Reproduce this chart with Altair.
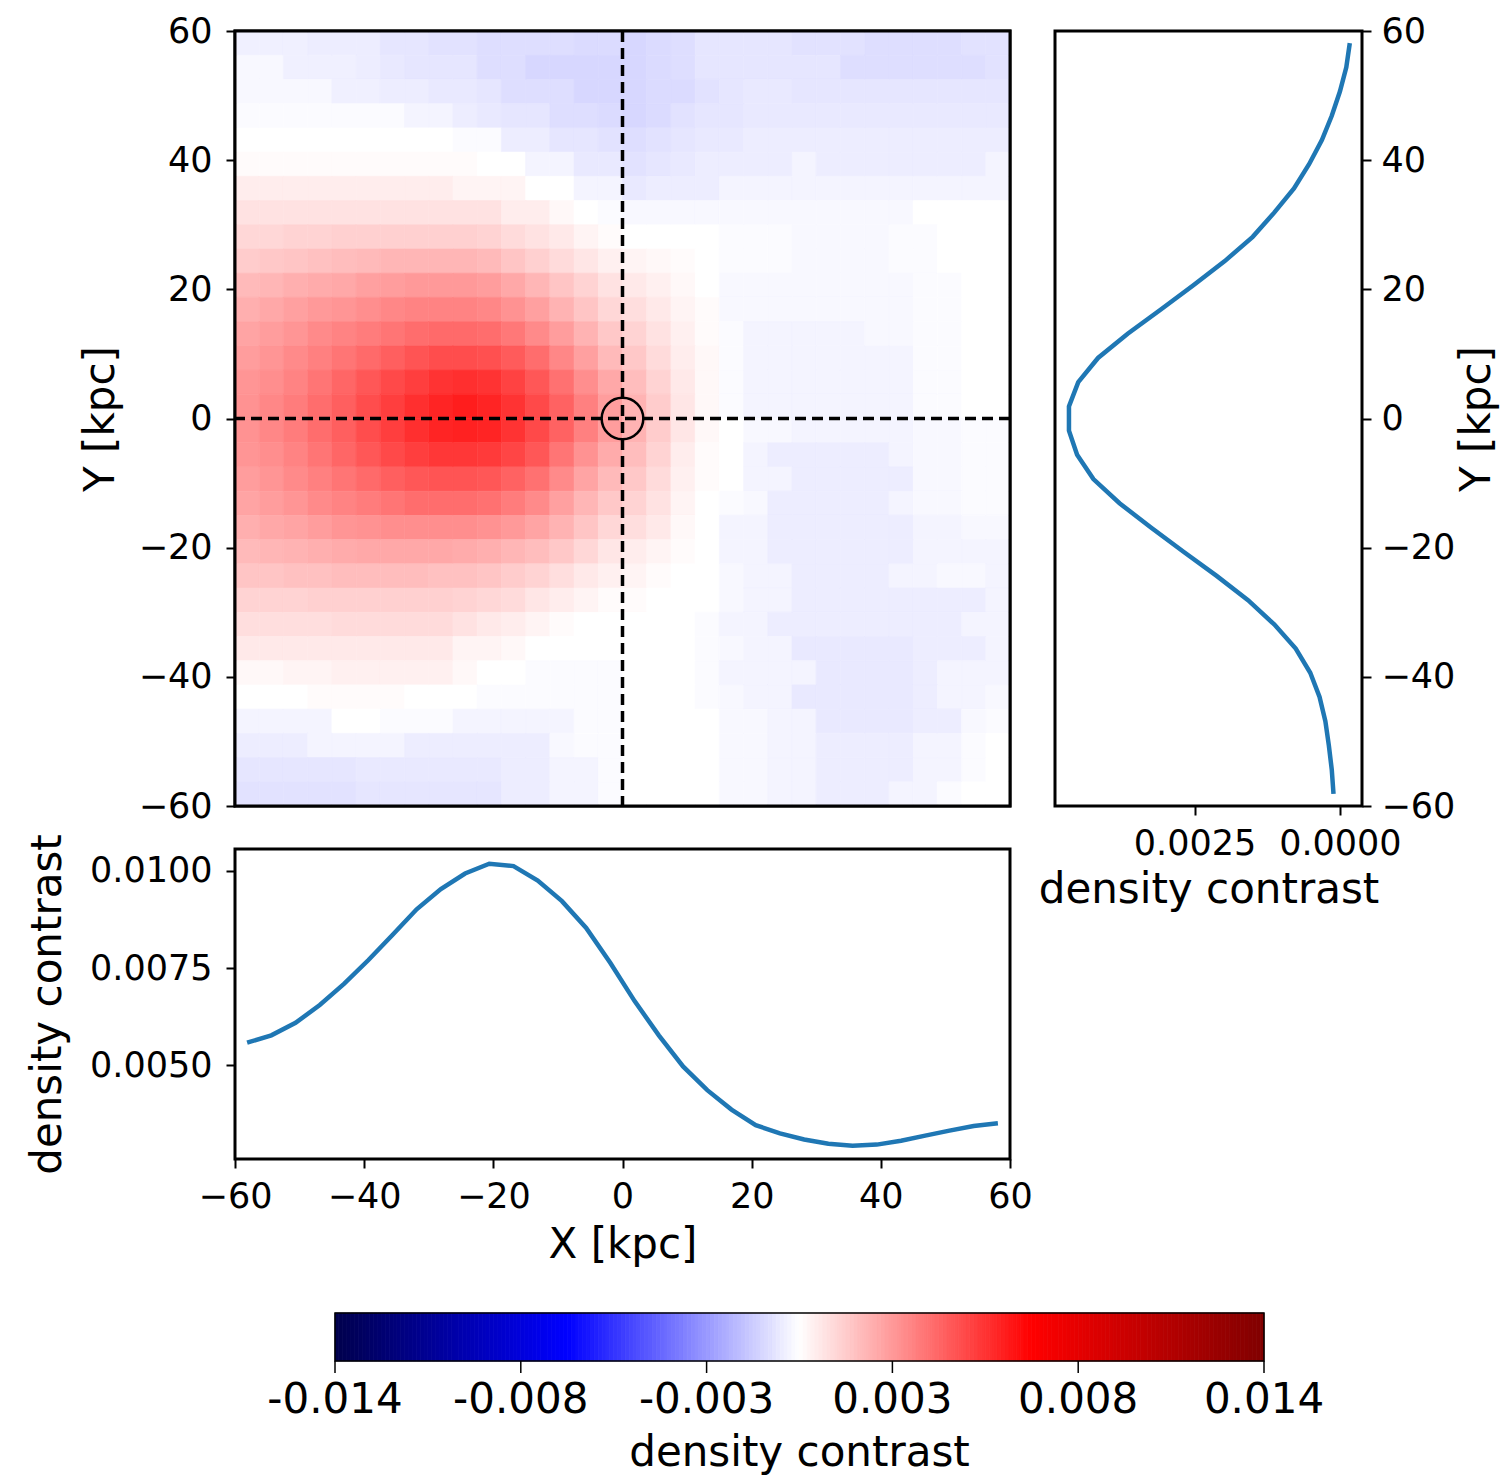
import altair as alt
import numpy as np
import pandas as pd

# ---------------- data ----------------
X_EDGES = np.linspace(-60, 60, 33)          # cell edges along X [kpc]
Y_EDGES = np.linspace(60, -60, 33)          # cell edges along Y, top row first
AXIS_TICKS = [-60, -40, -20, 0, 20, 40, 60]
CBAR_TICKS = [-0.014, -0.0084, -0.0028, 0.0028, 0.0084, 0.014]
CBAR_LABELS = ["-0.014", "-0.008", "-0.003", "0.003", "0.008", "0.014"]
CMAP_STOPS = [-0.014, -0.007, 0.0, 0.007, 0.014]
CMAP_COLORS = ["#00004c", "#0000ff", "#ffffff", "#ff0000", "#800000"]   # seismic

# density contrast map, units of 1e-4, row 0 = top (Y = 60)
HEAT_E4 = [
    [-4,-4,-4,-5,-5,-5,-7,-7,-8,-8,-9,-9,-9,-9,-10,-10,-11,-10,-9,-7,-7,-7,-7,-8,-8,-8,-9,-9,-9,-9,-8,-8],
    [-2,-2,-4,-4,-4,-5,-6,-7,-7,-7,-9,-9,-11,-11,-11,-11,-11,-10,-9,-7,-7,-7,-7,-7,-7,-9,-9,-9,-9,-9,-9,-8],
    [-2,-2,-2,-2,-4,-4,-5,-5,-6,-6,-7,-9,-9,-9,-11,-11,-11,-10,-10,-8,-7,-6,-6,-7,-7,-7,-7,-7,-7,-7,-7,-7],
    [-1,-1,-1,-1,-1,-1,-1,-3,-3,-5,-6,-7,-7,-9,-9,-10,-11,-10,-8,-7,-7,-6,-6,-6,-6,-6,-6,-6,-6,-6,-6,-6],
    [0,0,0,0,0,0,0,0,0,-1,-1,-5,-5,-7,-7,-8,-9,-8,-7,-6,-6,-5,-5,-5,-5,-5,-5,-5,-5,-5,-5,-5],
    [1,1,1,1,1,1,1,1,1,1,0,0,-3,-3,-6,-6,-8,-7,-6,-5,-5,-5,-5,-3,-5,-5,-5,-5,-5,-5,-5,-3],
    [5,5,5,5,5,5,5,5,5,3,3,3,0,0,-3,-3,-6,-5,-5,-5,-3,-3,-3,-3,-3,-3,-3,-3,-3,-3,-3,-3],
    [8,8,8,8,8,8,8,8,8,8,8,5,5,2,0,-1,-2,-2,-2,-2,-2,-2,-2,-2,-2,-2,-2,-2,0,0,0,0],
    [11,11,12,12,13,13,13,13,13,13,12,10,8,6,3,1,0,0,0,0,-1,-1,-1,-2,-2,-2,-2,-1,-1,0,0,0],
    [14,15,16,17,18,19,20,20,20,20,19,16,13,10,7,4,3,2,1,0,-1,-1,-1,-2,-2,-2,-2,-1,-1,0,0,0],
    [19,20,22,23,24,26,27,28,28,28,27,24,20,16,12,8,6,4,2,0,-2,-2,-2,-2,-2,-2,-2,-2,-1,-1,0,0],
    [22,24,26,28,29,31,33,34,34,34,33,30,26,21,16,11,9,6,3,1,-2,-2,-2,-2,-2,-2,-2,-2,-1,-1,0,0],
    [25,27,29,32,34,36,38,40,41,41,40,37,32,27,21,15,12,8,4,1,-1,-3,-3,-3,-3,-3,-2,-2,-1,-1,0,0],
    [27,29,32,35,38,41,44,47,49,49,48,45,40,33,26,19,15,10,5,2,-1,-3,-3,-3,-3,-3,-3,-3,-1,-1,0,0],
    [29,31,34,38,42,46,50,53,56,57,56,52,46,39,31,24,18,12,6,2,-1,-3,-3,-3,-3,-3,-3,-3,-1,-1,0,0],
    [30,33,36,40,44,49,53,57,60,62,60,56,50,43,35,27,21,14,7,2,-1,-3,-3,-3,-3,-3,-3,-3,-1,-1,0,0],
    [30,33,36,40,44,49,53,57,60,61,60,56,50,43,35,27,21,14,7,2,0,-2,-2,-3,-3,-3,-3,-3,-2,-2,-1,-1],
    [29,31,34,38,42,46,50,53,55,55,54,51,46,38,30,23,18,12,5,1,0,-3,-5,-5,-5,-5,-5,-3,-2,-2,-1,-1],
    [27,29,32,35,38,41,44,46,47,47,46,43,39,32,25,19,15,10,4,1,0,-3,-3,-5,-5,-5,-5,-5,-2,-2,-1,-1],
    [25,27,29,32,34,36,38,40,40,40,39,36,32,26,20,15,12,8,3,0,-1,-2,-5,-5,-5,-5,-5,-3,-2,-2,-1,-1],
    [22,24,25,27,29,30,31,31,31,31,30,28,25,21,16,11,9,6,2,0,-3,-3,-5,-5,-5,-5,-5,-5,-3,-3,-2,-2],
    [19,20,21,22,23,24,24,24,24,23,22,20,18,15,11,7,5,3,1,0,-3,-3,-5,-5,-5,-5,-5,-5,-3,-3,-3,-3],
    [16,16,17,17,18,18,18,18,17,17,16,14,12,9,6,4,3,1,0,0,-2,-3,-3,-5,-5,-5,-5,-3,-3,-2,-2,-3],
    [12,12,12,13,13,13,13,13,13,12,11,10,7,5,3,1,1,0,0,0,-2,-3,-3,-5,-5,-5,-5,-5,-5,-5,-5,-3],
    [9,9,9,9,10,10,10,10,10,8,6,5,3,1,0,0,0,0,0,-1,-3,-3,-5,-5,-5,-5,-5,-5,-5,-5,-3,-3],
    [6,6,6,6,6,6,6,6,6,3,3,2,0,0,0,0,0,0,0,-1,-2,-3,-3,-6,-6,-6,-6,-6,-5,-5,-5,-3],
    [2,2,3,3,4,4,4,4,4,2,0,0,-1,-1,-1,-1,0,0,0,-1,-3,-3,-3,-3,-6,-6,-6,-6,-5,-3,-3,-3],
    [0,0,0,1,1,1,1,0,0,0,-1,-1,-1,-1,-1,-1,0,0,0,-1,-2,-3,-3,-6,-6,-6,-6,-6,-5,-3,-3,-2],
    [-3,-3,-3,-3,0,0,-1,-1,-1,-3,-3,-3,-3,-3,-1,-1,0,0,0,0,-2,-2,-3,-3,-6,-6,-6,-6,-5,-5,-2,-1],
    [-5,-5,-5,-3,-3,-3,-3,-5,-5,-5,-5,-5,-5,-2,-1,-1,0,0,0,0,-2,-2,-3,-3,-5,-5,-5,-5,-3,-3,-1,0],
    [-7,-7,-7,-7,-7,-6,-6,-6,-6,-6,-6,-5,-5,-3,-3,-1,0,0,0,0,-2,-2,-3,-3,-5,-5,-5,-5,-3,-3,-1,0],
    [-8,-8,-8,-8,-8,-7,-7,-7,-7,-7,-7,-5,-5,-3,-3,-1,0,0,0,0,-2,-2,-3,-3,-5,-5,-5,-3,-3,-1,0,0],
]

# profile along X (bottom panel), at the 32 cell centres
X_PROFILE = [0.00558, 0.00577, 0.00609, 0.00655, 0.00709, 0.00770, 0.00835, 0.00901,
             0.00953, 0.00993, 0.01018, 0.01012, 0.00975, 0.00922, 0.00853, 0.00763,
             0.00665, 0.00577, 0.00497, 0.00436, 0.00386, 0.00346, 0.00325, 0.00309,
             0.00298, 0.00293, 0.00296, 0.00306, 0.00319, 0.00332, 0.00344, 0.00351]

# profile along Y (right panel), top (Y = 58) to bottom (Y = -58)
Y_PROFILE = [-0.00017, -0.00011, 0.00000, 0.00014, 0.00031, 0.00053, 0.00079, 0.00113,
             0.00150, 0.00198, 0.00252, 0.00308, 0.00365, 0.00416, 0.00450, 0.00466,
             0.00466, 0.00452, 0.00424, 0.00379, 0.00325, 0.00269, 0.00212, 0.00158,
             0.00113, 0.00076, 0.00051, 0.00035, 0.00025, 0.00019, 0.00014, 0.00011]

# ---------------- tables ----------------
rows = []
for r, row in enumerate(HEAT_E4):
    for c, v in enumerate(row):
        rows.append({"x0": float(X_EDGES[c]), "x1": float(X_EDGES[c + 1]),
                     "y0": float(Y_EDGES[r + 1]), "y1": float(Y_EDGES[r]),
                     "v": v * 1e-4})
heat_df = pd.DataFrame(rows)

x_centres = (X_EDGES[:-1] + X_EDGES[1:]) / 2
y_centres = (Y_EDGES[:-1] + Y_EDGES[1:]) / 2
bottom_df = pd.DataFrame({"x": x_centres, "v": X_PROFILE})
right_df = pd.DataFrame({"y": y_centres, "v": Y_PROFILE, "o": np.arange(len(Y_PROFILE))})
frame_df = pd.DataFrame({"x0": [X_EDGES[0]], "x1": [X_EDGES[-1]],
                         "y0": [Y_EDGES[-1]], "y1": [Y_EDGES[0]]})

FONT = "DejaVu Sans"
BLUE = "#1f77b4"
TICK_FS = 35
TITLE_FS = 42
CB_FS = 42
LINE_W = 4.5

cscale = alt.Scale(domain=CMAP_STOPS, range=CMAP_COLORS, interpolate="rgb")
xs = alt.Scale(domain=[-60, 60], nice=False, zero=False)
ys = alt.Scale(domain=[-60, 60], nice=False, zero=False)

heat_yaxis = alt.Axis(values=AXIS_TICKS, title="Y [kpc]", titlePadding=16, labelPadding=14)

heat = alt.Chart(heat_df).mark_rect(strokeWidth=0.6).encode(
    x=alt.X("x0:Q", scale=xs, axis=None),
    x2="x1:Q",
    y=alt.Y("y0:Q", scale=ys, axis=heat_yaxis),
    y2="y1:Q",
    color=alt.Color("v:Q", scale=cscale, legend=None),
    stroke=alt.Stroke("v:Q", scale=cscale, legend=None),
)

frame = alt.Chart(frame_df).mark_rect(
    fillOpacity=0, stroke="black", strokeWidth=3
).encode(
    x=alt.X("x0:Q", scale=xs, axis=None), x2="x1:Q",
    y=alt.Y("y0:Q", scale=ys, axis=heat_yaxis), y2="y1:Q",
)

vline = alt.Chart(pd.DataFrame({"x0": [0.0]})).mark_rule(
    color="black", strokeWidth=3.5, strokeDash=[11, 6]
).encode(x=alt.X("x0:Q", scale=xs, axis=None))

hline = alt.Chart(pd.DataFrame({"y0": [0.0]})).mark_rule(
    color="black", strokeWidth=3.5, strokeDash=[11, 6]
).encode(y=alt.Y("y0:Q", scale=ys, axis=heat_yaxis))

circ = alt.Chart(pd.DataFrame({"x0": [0.0], "y0": [0.0]})).mark_point(
    shape="circle", size=1735, filled=False, stroke="black", strokeWidth=2.5, opacity=1
).encode(x=alt.X("x0:Q", scale=xs, axis=None), y=alt.Y("y0:Q", scale=ys, axis=heat_yaxis))

heat_panel = alt.layer(heat, frame, vline, hline, circ).properties(width=775, height=775)

right = alt.Chart(right_df).mark_line(color=BLUE, strokeWidth=LINE_W).encode(
    x=alt.X("v:Q",
            scale=alt.Scale(domain=[-0.00038, 0.0049], reverse=True, nice=False, zero=False),
            axis=alt.Axis(values=[0.0, 0.0025], format=".4f", title="density contrast",
                          labelPadding=11, titlePadding=8)),
    y=alt.Y("y:Q", scale=ys,
            axis=alt.Axis(orient="right", values=AXIS_TICKS, title="Y [kpc]",
                          titleAngle=270, titleBaseline="top", titlePadding=2,
                          labelPadding=10)),
    order="o:Q",
).properties(width=307, height=775)

bottom = alt.Chart(bottom_df).mark_line(color=BLUE, strokeWidth=LINE_W).encode(
    x=alt.X("x:Q", scale=xs, axis=alt.Axis(values=AXIS_TICKS, title="X [kpc]",
                                           labelPadding=11, titlePadding=10)),
    y=alt.Y("v:Q", scale=alt.Scale(domain=[0.00259, 0.01056], nice=False, zero=False),
            axis=alt.Axis(values=[0.005, 0.0075, 0.01], format=".4f",
                          title="density contrast", titlePadding=20, labelPadding=14)),
).properties(width=775, height=310)

filler = alt.Chart(pd.DataFrame({"f": [0.0]})).mark_point(opacity=0).encode(
    x=alt.X("f:Q", axis=None), y=alt.Y("f:Q", axis=None)
).properties(width=10, height=10, view=alt.ViewBackground(stroke="transparent"))

# ---------------- colour bar ----------------
# The cell sits under the map (775 px wide); the bar starts 100 px in and is 929 px long,
# so it is drawn past the cell edge.  Its y axis is in bar thicknesses (0..1 = the bar).
CB_MIN, CB_MAX = CBAR_TICKS[0], CBAR_TICKS[-1]
CB_LEFT_PAD, CB_LEN, CB_THICK, CB_CELL_W, CB_CELL_H = 100, 929, 48, 775, 159
per_px = (CB_MAX - CB_MIN) / CB_LEN
cb_xscale = alt.Scale(domain=[CB_MIN - CB_LEFT_PAD * per_px,
                              CB_MIN - CB_LEFT_PAD * per_px + CB_CELL_W * per_px],
                      nice=False, zero=False)
cb_yscale = alt.Scale(domain=[0, CB_CELL_H / CB_THICK], nice=False, zero=False)

cb_edges = np.linspace(CB_MIN, CB_MAX, 241)
cbar_df = pd.DataFrame({"a": cb_edges[:-1], "b": cb_edges[1:],
                        "v": (cb_edges[:-1] + cb_edges[1:]) / 2, "y0": 0.0, "y1": 1.0})
cbar_frame_df = pd.DataFrame({"a": [CB_MIN], "b": [CB_MAX], "y0": [0.0], "y1": [1.0]})
cbar_tick_df = pd.DataFrame({"a": CBAR_TICKS, "lab": CBAR_LABELS,
                             "t0": 0.0, "t1": -12 / CB_THICK, "ty": -52 / CB_THICK})
cbar_title_df = pd.DataFrame({"a": [(CB_MIN + CB_MAX) / 2], "ty": [-105 / CB_THICK],
                              "lab": ["density contrast"]})

cbx = lambda f: alt.X(f, scale=cb_xscale, axis=None)
cby = lambda f: alt.Y(f, scale=cb_yscale, axis=None)

cbar_slices = alt.Chart(cbar_df).mark_rect(strokeWidth=0.8).encode(
    x=cbx("a:Q"), x2="b:Q", y=cby("y0:Q"), y2="y1:Q",
    color=alt.Color("v:Q", scale=cscale, legend=None),
    stroke=alt.Stroke("v:Q", scale=cscale, legend=None),
)
cbar_border = alt.Chart(cbar_frame_df).mark_rect(
    fillOpacity=0, stroke="black", strokeWidth=1.5
).encode(x=cbx("a:Q"), x2="b:Q", y=cby("y0:Q"), y2="y1:Q")
cbar_ticks = alt.Chart(cbar_tick_df).mark_rule(color="black", strokeWidth=1.5).encode(
    x=cbx("a:Q"), y=cby("t0:Q"), y2="t1:Q")
cbar_labels = alt.Chart(cbar_tick_df).mark_text(
    font=FONT, fontSize=CB_FS, color="black", align="center", baseline="alphabetic"
).encode(x=cbx("a:Q"), y=cby("ty:Q"), text="lab:N")
cbar_title = alt.Chart(cbar_title_df).mark_text(
    font=FONT, fontSize=CB_FS, color="black", align="center", baseline="alphabetic"
).encode(x=cbx("a:Q"), y=cby("ty:Q"), text="lab:N")

cbar = alt.layer(cbar_slices, cbar_border, cbar_ticks, cbar_labels, cbar_title).properties(
    width=CB_CELL_W, height=CB_CELL_H,
    view=alt.ViewBackground(stroke="transparent"),
)

chart = alt.concat(heat_panel, right, bottom, filler, cbar, columns=2).properties(
    bounds="flush", align="each",
    spacing={"row": 43, "column": 45},
    padding={"left": 17, "top": 4, "right": 0, "bottom": 0},
).configure_view(
    stroke="black", strokeWidth=3
).configure_axis(
    grid=False, domain=False, labelFont=FONT, labelFontSize=TICK_FS, labelColor="black",
    titleFont=FONT, titleFontSize=TITLE_FS, titleFontWeight="normal", titleColor="black",
    tickColor="black", tickWidth=2, tickSize=9,
    labelFlush=False, labelOverlap=False,
)

chart.save("out.html", embed_options={"renderer": "svg", "actions": False})
